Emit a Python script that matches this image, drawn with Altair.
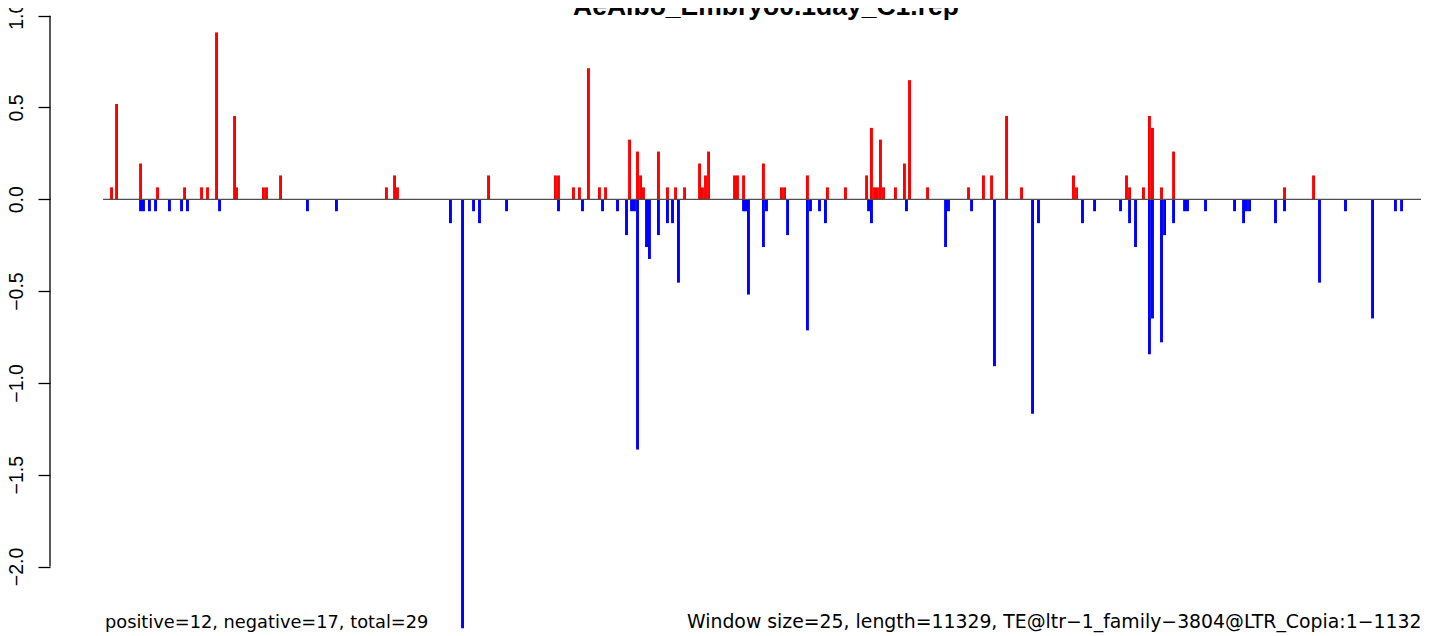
import altair as alt
import pandas as pd

TITLE = "AeAlbo_Embryo0.1day_C1.rep"
LEFT_NOTE = "positive=12, negative=17, total=29"
RIGHT_NOTE = "Window size=25, length=11329, TE@ltr\u22121_family\u22123804@LTR_Copia:1\u221211329"
WINDOW = 25
LENGTH = 11329

# window start (bp) and value of positive-strand windows
red_pos = [60, 103, 308, 453, 684, 829, 880, 957, 1111, 1128,
           1358, 1384, 1504, 2409, 2478, 2503, 3281, 3853, 3879, 4007,
           4058, 4135, 4229, 4281, 4486, 4554, 4580, 4605, 4733, 4810,
           4879, 4956, 5084, 5109, 5135, 5161, 5383, 5408, 5460, 5630,
           5784, 5810, 6006, 6177, 6331, 6511, 6553, 6579, 6604, 6630,
           6656, 6758, 6835, 6878, 7032, 7382, 7510, 7579, 7707, 7835,
           8279, 8305, 8732, 8758, 8877, 8928, 8954, 9031, 9134, 10082,
           10330]
red_val = [0.065, 0.519, 0.195, 0.065, 0.065, 0.065, 0.065, 0.909, 0.454, 0.065,
           0.065, 0.065, 0.130, 0.065, 0.130, 0.065, 0.130, 0.130, 0.130, 0.065,
           0.065, 0.714, 0.065, 0.065, 0.325, 0.260, 0.130, 0.065, 0.260, 0.065,
           0.065, 0.065, 0.195, 0.065, 0.130, 0.260, 0.130, 0.130, 0.130, 0.195,
           0.065, 0.065, 0.130, 0.065, 0.065, 0.130, 0.389, 0.065, 0.065, 0.325,
           0.065, 0.065, 0.195, 0.649, 0.065, 0.065, 0.130, 0.130, 0.454, 0.065,
           0.130, 0.065, 0.130, 0.065, 0.065, 0.454, 0.389, 0.065, 0.260, 0.065,
           0.130]

# window start (bp) and value of negative-strand windows
blue_pos = [308, 333, 384, 436, 555, 658, 709, 983, 1734, 1982,
            2956, 3059, 3153, 3204, 3435, 3879, 4084, 4255, 4383, 4460,
            4503, 4528, 4554, 4631, 4656, 4733, 4810, 4853, 4904, 5460,
            5477, 5502, 5630, 5656, 5836, 6006, 6032, 6109, 6160, 6528,
            6553, 6852, 7186, 7211, 7408, 7604, 7929, 7980, 8356, 8459,
            8681, 8758, 8809, 8928, 8954, 9031, 9057, 9134, 9228, 9253,
            9407, 9655, 9732, 9757, 9783, 10005, 10082, 10381, 10603, 10834,
            11030, 11082]
blue_val = [-0.065, -0.065, -0.065, -0.065, -0.065, -0.065, -0.065, -0.065, -0.065, -0.065,
            -0.130, -2.336, -0.065, -0.130, -0.065, -0.065, -0.065, -0.065, -0.065, -0.195,
            -0.065, -0.065, -1.363, -0.260, -0.325, -0.195, -0.130, -0.130, -0.454, -0.065,
            -0.065, -0.519, -0.260, -0.065, -0.195, -0.714, -0.065, -0.065, -0.130, -0.065,
            -0.130, -0.065, -0.260, -0.065, -0.065, -0.909, -1.168, -0.130, -0.130, -0.065,
            -0.065, -0.130, -0.260, -0.844, -0.649, -0.779, -0.195, -0.130, -0.065, -0.065,
            -0.065, -0.065, -0.130, -0.065, -0.065, -0.130, -0.065, -0.454, -0.065, -0.649,
            -0.065, -0.065]

y_ticks = [-2.0, -1.5, -1.0, -0.5, 0.0, 0.5, 1.0]

red = pd.DataFrame({"pos": red_pos, "val": red_val})
blue = pd.DataFrame({"pos": blue_pos, "val": blue_val})

x_scale = alt.Scale(domain=[-0.04 * LENGTH, LENGTH], nice=False, zero=False)
y_scale = alt.Scale(domain=[-2.3785, 1.0419], nice=False, zero=False)

y_axis = alt.Axis(values=y_ticks, format=".1f", domain=False, grid=False,
                  ticks=True, tickSize=12, tickWidth=1.3, tickColor="black",
                  labelAngle=270, labelAlign="center", labelBaseline="alphabetic",
                  labelPadding=16, labelFont="Liberation Sans", labelFontSize=19.5,
                  labelColor="black", labelOverlap=False, title="")

X_NOAXIS = dict(scale=x_scale, axis=None)


def bars(df, color):
    return alt.Chart(df).transform_calculate(
        end=f"datum.pos + {WINDOW}"
    ).mark_rect(color=color).encode(
        x=alt.X("pos:Q", **X_NOAXIS),
        x2="end:Q",
        y=alt.Y("val:Q", scale=y_scale, axis=y_axis),
        y2=alt.datum(0),
    )


red_bars = bars(red, "#ff0000")
blue_bars = bars(blue, "#0000ff")

zero_df = pd.DataFrame({"x": [0], "x2": [LENGTH], "val": [0.0]})
zero_line = alt.Chart(zero_df).mark_rule(color="#4d4d4d", strokeWidth=1.3).encode(
    x=alt.X("x:Q", **X_NOAXIS),
    x2="x2:Q",
    y=alt.Y("val:Q", scale=y_scale, axis=y_axis),
)

axis_df = pd.DataFrame({"val": [min(y_ticks)], "val2": [max(y_ticks)]})
axis_line = alt.Chart(axis_df).mark_rule(color="black", strokeWidth=1.3).encode(
    x=alt.value(0),
    y=alt.Y("val:Q", scale=y_scale, axis=y_axis),
    y2="val2:Q",
)

title_text = alt.Chart(pd.DataFrame({"t": [TITLE]})).mark_text(
    font="Liberation Sans", fontSize=26.5, fontWeight="bold", align="center",
    baseline="alphabetic", color="black"
).encode(x=alt.value(716), y=alt.value(7), text="t:N")

left_text = alt.Chart(pd.DataFrame({"t": [LEFT_NOTE]})).mark_text(
    font="DejaVu Sans", fontSize=17.8, align="left", baseline="alphabetic", color="black"
).encode(x=alt.value(55), y=alt.value(620), text="t:N")

right_text = alt.Chart(pd.DataFrame({"t": [RIGHT_NOTE]})).mark_text(
    font="DejaVu Sans", fontSize=18.85, align="left", baseline="alphabetic", color="black"
).encode(x=alt.value(637), y=alt.value(620), text="t:N")

chart = alt.layer(
    red_bars, blue_bars, zero_line, axis_line, title_text, left_text, right_text
).properties(
    width=1379, height=628,
    padding={"left": 42, "top": 0, "right": -8, "bottom": 0},
    autosize=alt.AutoSizeParams(type="none"),
).configure_view(strokeWidth=0)

chart.save("out.html", embed_options={"renderer": "svg", "actions": False})
